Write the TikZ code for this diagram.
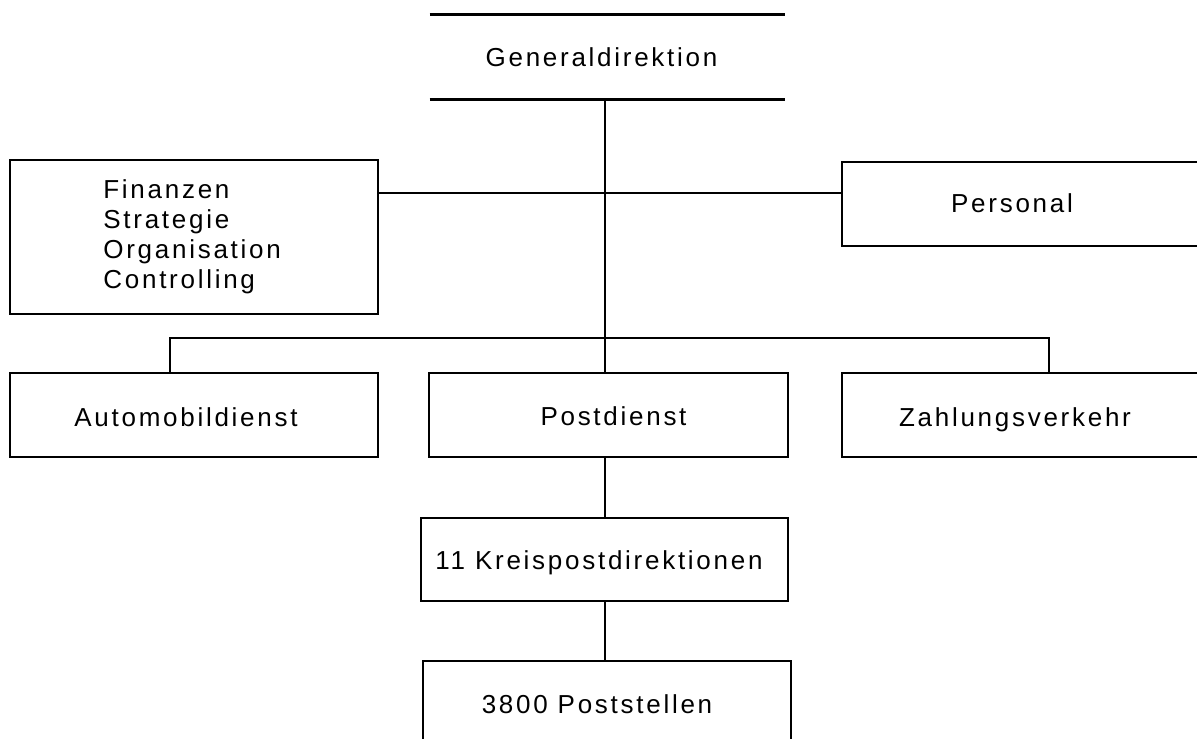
\documentclass[tikz,border=0pt]{standalone}
\usepackage{fontspec}
\setmainfont{Liberation Sans}[LetterSpace=10.5]
\begin{document}
\begin{tikzpicture}[x=0.5pt,y=-0.5pt,
  box/.style={draw=black,line width=1.2pt,inner sep=0pt,rectangle},
  lbl/.style={inner sep=0pt,font=\fontsize{13}{15}\selectfont,anchor=base},
  lblw/.style={inner sep=0pt,font=\fontsize{13}{15}\selectfont,anchor=base west},
  conn/.style={draw=black,line width=1.2pt}]
\useasboundingbox (0,0) rectangle (1197,738);
% boxes
\node[inner sep=0pt,minimum width=177.5pt,minimum height=42pt] (gd) at (607.5,57) {};
\node[box,minimum width=184pt,minimum height=77pt] (fin) at (194,237) {};
\node[box,minimum width=184pt,minimum height=42pt] (pers) at (1026,204) {};
\node[box,minimum width=184pt,minimum height=42pt] (auto) at (194,415) {};
\node[box,minimum width=179.5pt,minimum height=42pt] (post) at (608.5,415) {};
\node[box,minimum width=184pt,minimum height=42pt] (zahl) at (1026,415) {};
\node[box,minimum width=183.5pt,minimum height=41.5pt] (kreis) at (604.5,559.5) {};
\node[box,minimum width=184pt,minimum height=42pt] (ps) at (607,703) {};
\draw[conn] (gd.north west) -- (gd.north east);
\draw[conn] (gd.south west) -- (gd.south east);
% texts
\node[lbl] (tgd) at (601.5,67) {Generaldirektion};
\node[lblw] (tf1) at (103,198) {Finanzen};
\node[lblw] (tf2) at (103,228) {Strategie};
\node[lblw] (tf3) at (103,258) {Organisation};
\node[lblw] (tf4) at (103,288) {Controlling};
\node[lbl] (tpers) at (1012,212) {Personal};
\node[lbl] (tauto) at (186,426) {Automobildienst};
\node[lbl] (tpost) at (613.5,425) {Postdienst};
\node[lbl] (tzahl) at (1015,426) {Zahlungsverkehr};
\node[lbl] (tkreis) at (599,569) {11 Kreispostdirektionen};
\node[lbl] (tps) at (597,713) {3800 Poststellen};
% connectors
\coordinate (sp) at (605,0);
\coordinate (h1) at (0,193);
\coordinate (bus) at (0,338);
\coordinate (da) at (170,0);
\coordinate (dz) at (1049,0);
\draw[conn] (sp |- gd.south) -- (sp |- post.north);
\draw[conn] (fin.east |- h1) -- (pers.west |- h1);
\draw[conn] (da |- auto.north) -- (da |- bus) -- (dz |- bus) -- (dz |- zahl.north);
\draw[conn] (sp |- post.south) -- (sp |- kreis.north);
\draw[conn] (sp |- kreis.south) -- (sp |- ps.north);
\end{tikzpicture}
\end{document}
